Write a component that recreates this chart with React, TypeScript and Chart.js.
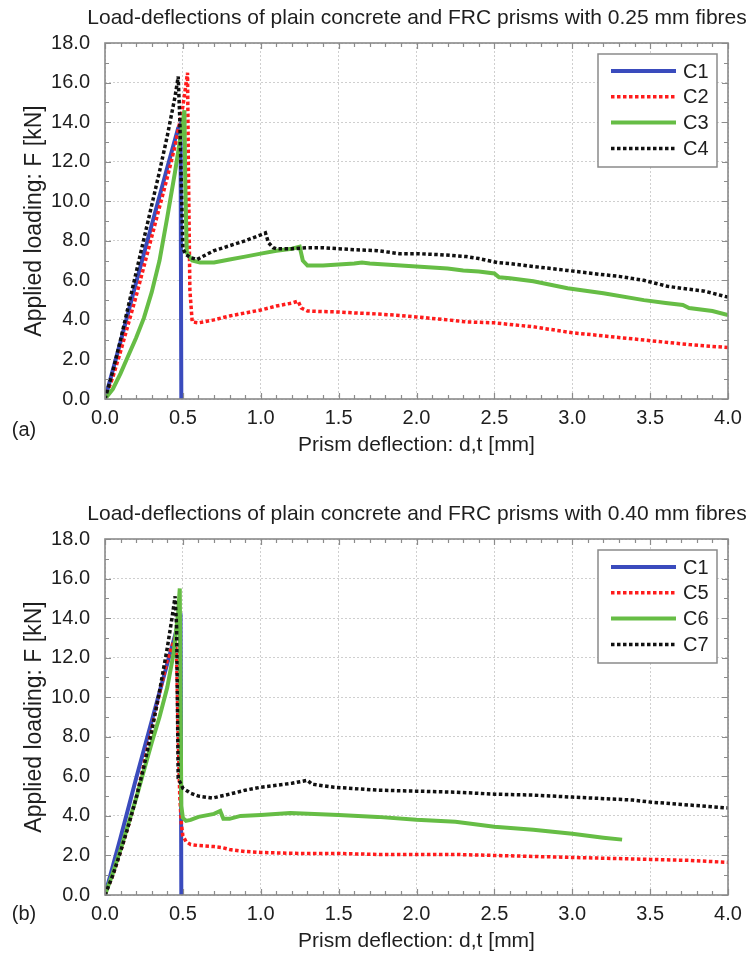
import React, { useEffect, useRef } from 'react';
import { Chart, registerables } from 'chart.js';

Chart.register(...registerables);

// ---------- data (deflection d [mm], load F [kN]) ----------
const C1_D = [0, 0.1, 0.2, 0.3, 0.4, 0.47, 0.485, 0.49];
const C1_F = [0, 2.9, 5.9, 8.8, 11.7, 13.7, 13.9, 0];

const C2_D = [0, 0.05, 0.1, 0.15, 0.2, 0.25, 0.3, 0.35, 0.4, 0.45, 0.5, 0.53, 0.535, 0.545, 0.56, 0.6, 0.7, 0.8, 0.9, 1.0, 1.1, 1.2, 1.24, 1.26, 1.3, 1.4, 1.5, 1.6, 1.75, 1.9, 2.0, 2.2, 2.32, 2.5, 2.75, 3.0, 3.25, 3.5, 3.75, 4.0];
const C2_F = [0, 1.1, 2.4, 3.8, 5.2, 6.7, 8.2, 9.7, 11.2, 12.8, 14.8, 16.5, 12.0, 5.5, 3.9, 3.85, 4.0, 4.2, 4.35, 4.5, 4.7, 4.85, 4.95, 4.6, 4.45, 4.42, 4.4, 4.35, 4.3, 4.22, 4.15, 4.0, 3.9, 3.85, 3.65, 3.35, 3.15, 2.95, 2.75, 2.6];

const C3_D = [0, 0.05, 0.1, 0.15, 0.2, 0.25, 0.3, 0.35, 0.4, 0.45, 0.5, 0.51, 0.515, 0.525, 0.56, 0.61, 0.7, 0.8, 0.9, 1.0, 1.1, 1.2, 1.25, 1.27, 1.3, 1.4, 1.5, 1.6, 1.65, 1.7, 1.8, 1.9, 2.0, 2.1, 2.2, 2.3, 2.4, 2.5, 2.53, 2.6, 2.75, 2.97, 3.2, 3.46, 3.6, 3.71, 3.75, 3.9, 4.0];
const C3_F = [0, 0.5, 1.3, 2.2, 3.1, 4.1, 5.4, 7.0, 9.2, 11.5, 14.0, 14.6, 11.0, 7.4, 7.0, 6.9, 6.9, 7.05, 7.2, 7.35, 7.5, 7.6, 7.7, 7.0, 6.75, 6.75, 6.8, 6.85, 6.9, 6.85, 6.8, 6.75, 6.7, 6.65, 6.6, 6.5, 6.45, 6.35, 6.15, 6.1, 5.95, 5.6, 5.35, 5.0, 4.85, 4.75, 4.6, 4.45, 4.25];

const C4_D = [0, 0.05, 0.1, 0.15, 0.2, 0.25, 0.3, 0.35, 0.4, 0.45, 0.47, 0.48, 0.5, 0.52, 0.55, 0.59, 0.65, 0.7, 0.8, 0.9, 1.0, 1.03, 1.05, 1.08, 1.1, 1.2, 1.3, 1.4, 1.5, 1.6, 1.75, 1.89, 2.0, 2.15, 2.32, 2.4, 2.52, 2.6, 2.75, 2.97, 3.18, 3.3, 3.46, 3.61, 3.7, 3.85, 4.0];
const C4_F = [0, 1.4, 3.0, 4.7, 6.4, 8.1, 9.8, 11.5, 13.3, 15.3, 16.3, 14.2, 7.6, 7.3, 7.15, 7.05, 7.3, 7.5, 7.75, 8.0, 8.3, 8.4, 7.9, 7.65, 7.6, 7.6, 7.65, 7.65, 7.6, 7.55, 7.5, 7.35, 7.35, 7.3, 7.2, 7.1, 6.9, 6.85, 6.7, 6.5, 6.3, 6.2, 6.0, 5.7, 5.6, 5.45, 5.15];

const C5_D = [0, 0.05, 0.1, 0.15, 0.2, 0.25, 0.3, 0.35, 0.4, 0.45, 0.46, 0.47, 0.48, 0.49, 0.5, 0.52, 0.55, 0.6, 0.7, 0.75, 0.8, 0.9, 1.0, 1.25, 1.5, 1.75, 2.0, 2.25, 2.5, 2.75, 3.0, 3.25, 3.5, 3.75, 4.0];
const C5_F = [0, 1.0, 2.2, 3.5, 4.9, 6.6, 8.4, 10.2, 11.9, 13.0, 12.0, 8.0, 5.0, 3.6, 3.0, 2.7, 2.55, 2.5, 2.45, 2.4, 2.3, 2.2, 2.15, 2.1, 2.1, 2.05, 2.05, 2.05, 2.0, 1.95, 1.9, 1.85, 1.8, 1.75, 1.65];

const C6_D = [0, 0.05, 0.1, 0.15, 0.2, 0.25, 0.3, 0.35, 0.4, 0.44, 0.47, 0.48, 0.485, 0.49, 0.5, 0.52, 0.55, 0.6, 0.7, 0.74, 0.76, 0.8, 0.87, 1.0, 1.19, 1.5, 1.75, 2.0, 2.25, 2.5, 2.75, 3.0, 3.2, 3.32];
const C6_F = [0, 1.1, 2.3, 3.6, 4.9, 6.3, 7.7, 9.0, 10.5, 12.2, 14.3, 15.5, 10.0, 4.5, 3.9, 3.75, 3.8, 3.95, 4.1, 4.25, 3.85, 3.85, 4.0, 4.05, 4.15, 4.05, 3.95, 3.8, 3.7, 3.45, 3.3, 3.1, 2.9, 2.8];

const C7_D = [0, 0.05, 0.1, 0.15, 0.2, 0.25, 0.3, 0.35, 0.4, 0.43, 0.45, 0.46, 0.47, 0.5, 0.55, 0.6, 0.69, 0.8, 0.9, 1.0, 1.1, 1.2, 1.3, 1.33, 1.47, 1.75, 2.0, 2.25, 2.5, 2.75, 3.0, 3.39, 3.5, 3.75, 4.0];
const C7_F = [0, 1.0, 2.2, 3.5, 4.9, 6.5, 8.3, 10.3, 12.5, 14.0, 15.1, 13.5, 5.9, 5.4, 5.15, 5.0, 4.9, 5.1, 5.3, 5.45, 5.55, 5.65, 5.8, 5.6, 5.45, 5.3, 5.25, 5.2, 5.1, 5.05, 4.95, 4.8, 4.7, 4.55, 4.4];

const X_MIN = 0, X_MAX = 4, X_STEP = 0.5, X_MINOR = 0.1;
const Y_MIN = 0, Y_MAX = 18, Y_STEP = 2, Y_MINOR = 1;

const TITLE_A = 'Load-deflections of plain concrete and FRC prisms with 0.25 mm fibres';
const TITLE_B = 'Load-deflections of plain concrete and FRC prisms with 0.40 mm fibres';
const X_TITLE = 'Prism deflection: d,t [mm]';
const Y_TITLE = 'Applied loading: F [kN]';

const FONT = "'Liberation Sans', Arial, Helvetica, sans-serif";
const TEXT = '#1e1e1e';

const BLUE = '#3a4bbd';
const RED = '#ff1c1c';
const GREEN = '#66bd45';
const BLACK = '#111111';

const W = 751;
const H = 458;

type Style = { color: string; dash: number[]; width: number };
const SOLID_BLUE: Style = { color: BLUE, dash: [], width: 4 };
const DOT_RED: Style = { color: RED, dash: [3.5, 2.5], width: 3.5 };
const SOLID_GREEN: Style = { color: GREEN, dash: [], width: 4 };
const DOT_BLACK: Style = { color: BLACK, dash: [3.5, 2.5], width: 3.5 };

const pts = (d: number[], f: number[]) => d.map((x, i) => ({ x, y: f[i] }));

const makeDataset = (label: string, d: number[], f: number[], s: Style, order: number) => ({
  label,
  data: pts(d, f),
  borderColor: s.color,
  backgroundColor: s.color,
  borderWidth: s.width,
  borderDash: s.dash,
  borderCapStyle: 'butt',
  borderJoinStyle: 'miter',
  pointRadius: 0,
  pointHoverRadius: 0,
  tension: 0,
  fill: false,
  order,
});

const decorPlugin = {
  id: 'decor',
  afterDatasetsDraw(chart: any) {
    const { ctx, chartArea: a, scales } = chart;
    const x = scales.x, y = scales.y;
    ctx.save();
    ctx.strokeStyle = '#8c8c8c';
    ctx.lineWidth = 1.2;
    ctx.setLineDash([]);
    ctx.beginPath();
    const nx = Math.round((X_MAX - X_MIN) / X_MINOR);
    for (let i = 0; i <= nx; i++) {
      const v = X_MIN + i * X_MINOR;
      const px = Math.round(x.getPixelForValue(v)) + 0.5;
      const major = i % Math.round(X_STEP / X_MINOR) === 0;
      const len = major ? 6 : 4;
      ctx.moveTo(px, a.bottom); ctx.lineTo(px, a.bottom - len);
      ctx.moveTo(px, a.top); ctx.lineTo(px, a.top + len);
    }
    const ny = Math.round((Y_MAX - Y_MIN) / Y_MINOR);
    for (let i = 0; i <= ny; i++) {
      const v = Y_MIN + i * Y_MINOR;
      const py = Math.round(y.getPixelForValue(v)) + 0.5;
      const major = i % Math.round(Y_STEP / Y_MINOR) === 0;
      const len = major ? 6 : 4;
      ctx.moveTo(a.left, py); ctx.lineTo(a.left + len, py);
      ctx.moveTo(a.right, py); ctx.lineTo(a.right - len, py);
    }
    ctx.stroke();
    ctx.lineWidth = 1.6;
    ctx.strokeStyle = '#8a8a8a';
    ctx.strokeRect(a.left, a.top, a.right - a.left, a.bottom - a.top);
    ctx.restore();
  },
  afterDraw(chart: any, _args: any, opts: any) {
    const { ctx } = chart;
    ctx.save();
    ctx.fillStyle = TEXT;
    ctx.textBaseline = 'middle';
    // chart title
    ctx.font = `21px ${FONT}`;
    ctx.textAlign = 'center';
    ctx.fillText(opts.title, 417, 18);
    // panel label
    ctx.font = `20px ${FONT}`;
    ctx.textAlign = 'center';
    ctx.fillText(opts.panel, 24, opts.panelY);

    // legend
    const bx = 598, by = 54, bw = 119, bh = 113;
    ctx.fillStyle = '#ffffff';
    ctx.fillRect(bx, by, bw, bh);
    ctx.strokeStyle = '#8a8a8a';
    ctx.lineWidth = 1.5;
    ctx.setLineDash([]);
    ctx.strokeRect(bx, by, bw, bh);
    const rowY0 = 71, rowDy = 25.8;
    chart.data.datasets.forEach((ds: any, i: number) => {
      const ry = rowY0 + i * rowDy;
      ctx.strokeStyle = ds.borderColor;
      ctx.lineWidth = ds.borderWidth;
      ctx.setLineDash(ds.borderDash || []);
      ctx.lineCap = 'butt';
      ctx.beginPath();
      ctx.moveTo(611, ry);
      ctx.lineTo(676, ry);
      ctx.stroke();
      ctx.setLineDash([]);
      ctx.fillStyle = TEXT;
      ctx.textAlign = 'left';
      ctx.font = `20px ${FONT}`;
      ctx.fillText(ds.label, 683, ry + 1);
    });
    ctx.restore();
  },
};

function makeConfig(datasets: any[], title: string, panel: string, panelY: number) {
  return {
    type: 'line',
    data: { datasets },
    plugins: [decorPlugin],
    options: {
      animation: false,
      responsive: false,
      maintainAspectRatio: false,
      devicePixelRatio: 1,
      events: [],
      parsing: true,
      layout: { padding: { left: 0, right: 23, top: 43, bottom: 0 } },
      plugins: {
        legend: { display: false },
        title: { display: false },
        tooltip: { enabled: false },
        decor: { title, panel, panelY },
      },
      scales: {
        x: {
          type: 'linear',
          min: X_MIN,
          max: X_MAX,
          afterFit: (s: any) => { s.height = H - 399; },
          ticks: {
            stepSize: X_STEP,
            autoSkip: false,
            maxRotation: 0,
            padding: 7,
            color: TEXT,
            font: { family: FONT, size: 20 },
            callback: (v: any) => Number(v).toFixed(1),
          },
          grid: { color: '#cfcfcf', lineWidth: 1, drawTicks: false },
          border: { display: false, dash: [2, 2] },
          title: {
            display: true,
            text: X_TITLE,
            color: TEXT,
            font: { family: FONT, size: 21 },
            padding: { top: 0, bottom: 0 },
          },
        },
        y: {
          type: 'linear',
          min: Y_MIN,
          max: Y_MAX,
          afterFit: (s: any) => { s.width = 105; },
          ticks: {
            stepSize: Y_STEP,
            autoSkip: false,
            padding: 15,
            color: TEXT,
            font: { family: FONT, size: 20 },
            callback: (v: any) => Number(v).toFixed(1),
          },
          grid: { color: '#cfcfcf', lineWidth: 1, drawTicks: false },
          border: { display: false, dash: [2, 2] },
          title: {
            display: true,
            text: Y_TITLE,
            color: TEXT,
            font: { family: FONT, size: 23 },
            padding: { top: 21, bottom: 0 },
          },
        },
      },
    },
  };
}

function Panel(props: { which: 'a' | 'b' }) {
  const ref = useRef<HTMLCanvasElement | null>(null);
  useEffect(() => {
    if (!ref.current) return;
    const datasets =
      props.which === 'a'
        ? [
            makeDataset('C1', C1_D, C1_F, SOLID_BLUE, 4),
            makeDataset('C2', C2_D, C2_F, DOT_RED, 3),
            makeDataset('C3', C3_D, C3_F, SOLID_GREEN, 2),
            makeDataset('C4', C4_D, C4_F, DOT_BLACK, 1),
          ]
        : [
            makeDataset('C1', C1_D, C1_F, SOLID_BLUE, 4),
            makeDataset('C5', C5_D, C5_F, DOT_RED, 3),
            makeDataset('C6', C6_D, C6_F, SOLID_GREEN, 2),
            makeDataset('C7', C7_D, C7_F, DOT_BLACK, 1),
          ];
    const cfg = props.which === 'a'
      ? makeConfig(datasets, TITLE_A, '(a)', 430)
      : makeConfig(datasets, TITLE_B, '(b)', 418);
    const chart = new Chart(ref.current, cfg as any);
    return () => chart.destroy();
  }, [props.which]);
  return (
    <canvas
      ref={ref}
      width={W}
      height={H}
      style={{ display: 'block', width: W, height: H }}
    />
  );
}

export default function App() {
  return (
    <div style={{ position: 'absolute', left: 0, top: 0, width: W, height: 954, background: '#fff' }}>
      <div style={{ position: 'absolute', left: 0, top: 0 }}>
        <Panel which="a" />
      </div>
      <div style={{ position: 'absolute', left: 0, top: 496 }}>
        <Panel which="b" />
      </div>
    </div>
  );
}
